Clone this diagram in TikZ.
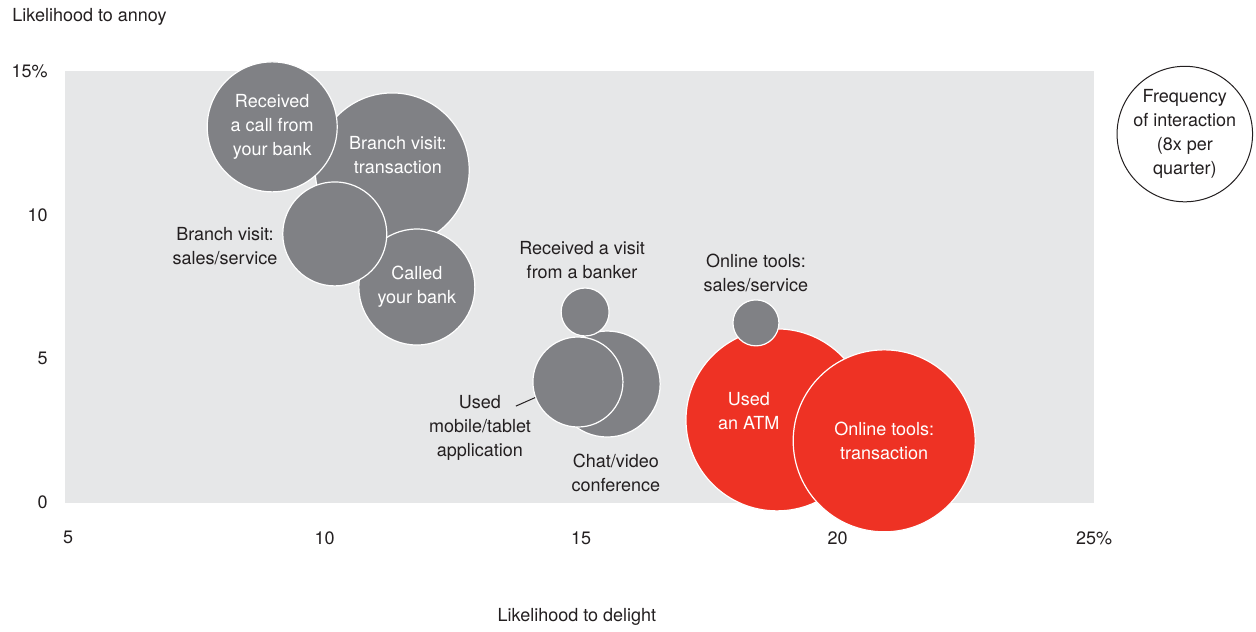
\documentclass[tikz,border=0pt]{standalone}
\usepackage{fontspec}
\setmainfont{TeX Gyre Heros}
\usepackage{tikz}
\definecolor{bubgray}{HTML}{808185}
\definecolor{bubred}{HTML}{EE3224}
\definecolor{panel}{HTML}{E6E7E8}
\definecolor{ink}{HTML}{231F20}

\begin{document}
\begin{tikzpicture}[x=25.65pt,y=14.35pt,
    lbl/.style={font=\fontsize{9}{12}\selectfont,text=ink,align=center,inner sep=0pt},
    bubble/.style={circle,draw=white,line width=0.6pt,inner sep=0pt,minimum size=#1,
      font=\fontsize{9}{12}\selectfont,text=white,align=center},
    gbub/.style={bubble=#1,fill=bubgray},
    rbub/.style={bubble=#1,fill=bubred}]
  \useasboundingbox (3.674,-4.530) rectangle (28.158,17.491);
  \fill[panel] (4.94,-0.03) rectangle (25,15);
  % axes
  \foreach \v/\t in {5/5,10/10,15/15,20/20,25/25\%}
    \node[lbl] (xt\v) at (\v,-1.25) {\t};
  \foreach \v/\t in {0/0,5/5,10/10,15/15\%}
    \node[lbl,anchor=east] (yt\v) at (4.61,\v) {\t};
  \node[lbl,anchor=west] (ytitle) at (3.908,16.9) {Likelihood to annoy};
  \node[lbl] (xtitle) at (14.92,-4.01) {Likelihood to delight};
  % branch and phone
  \node[gbub=77pt] (branchtx) at (11.32,11.57) {};
  \node[lbl,text=white] (branchtxt) at (11.43,12.09) {Branch visit:\\transaction};
  \node[gbub=65pt] (callrecv) at (8.98,13.07) {Received\\a call from\\your bank};
  \node[gbub=58pt] (called) at (11.80,7.49) {Called\\your bank};
  \node[gbub=52pt] (branchsales) at (10.20,9.34) {};
  \node[lbl] (branchsalestxt) at (8.06,8.90) {Branch visit:\\sales/service};
  % remote
  \node[gbub=53pt] (chat) at (15.51,4.11) {};
  \node[gbub=45pt] (mobile) at (14.94,4.18) {};
  \node[gbub=24pt] (banker) at (15.08,6.62) {};
  \node[lbl] (bankertxt) at (15.02,8.43) {Received a visit\\from a banker};
  \node[lbl] (mobiletxt) at (13.03,2.58) {Used\\mobile/tablet\\application};
  \node[lbl] (chattxt) at (15.68,1.01) {Chat/video\\conference};
  \coordinate (mobilelead) at (13.73,3.34);
  \draw[ink,line width=0.5pt] (mobilelead) -- (mobile.200);
  % self service
  \node[rbub=91pt] (atm) at (18.82,2.86) {};
  \node[lbl,text=white] (atmtxt) at (18.27,3.17) {Used\\an ATM};
  \node[gbub=23pt] (onlinesales) at (18.41,6.24) {};
  \node[lbl] (onlinesalestxt) at (18.41,7.98) {Online tools:\\sales/service};
  \node[rbub=91pt] (onlinetx) at (20.91,2.13) {Online tools:\\transaction};
  % legend
  \node[circle,draw=ink,line width=0.5pt,fill=white,minimum size=63pt,inner sep=0pt,
    lbl] (legend) at (26.77,12.82) {Frequency\\of interaction\\(8x per\\quarter)};
\end{tikzpicture}
\end{document}
